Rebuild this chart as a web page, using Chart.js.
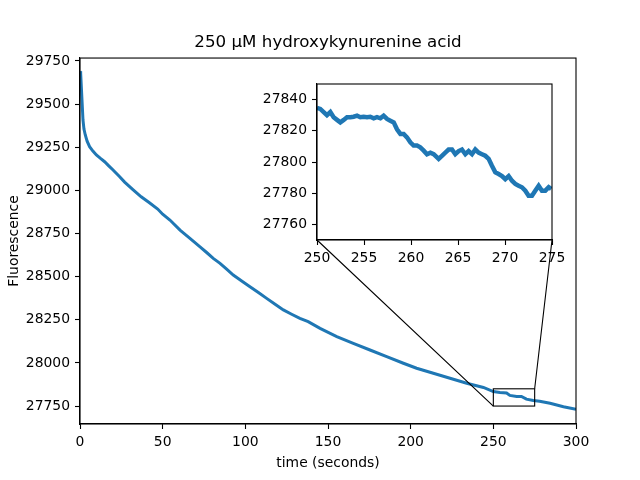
<!DOCTYPE html>
<html>
<head>
<meta charset="utf-8">
<script src="https://cdn.jsdelivr.net/npm/chart.js@4"></script>
<style>
  html, body { margin: 0; padding: 0; background: #fff; }
  #wrap { position: relative; width: 640px; height: 480px; }
  canvas { position: absolute; left: 0; top: 0; }
  #inset { pointer-events: none; }
</style>
</head>
<body>
<div id="wrap">
  <canvas id="main" width="640" height="480"></canvas>
  <canvas id="inset" width="640" height="480"></canvas>
</div>
<script>
// ---- data ----
const titleText = '250 µM hydroxykynurenine acid';
const xLabel = 'time (seconds)';
const yLabel = 'Fluorescence';

const mainTime = [0, 0.4, 1.2, 1.8, 2.4, 3.2, 4.3, 5.8, 7.8, 9.9, 12.4, 14.9, 17.4, 20, 24, 27, 32, 37, 42,
  47, 50, 54.4, 60.5, 66.5, 72.6, 76.6, 80.6, 84.7, 88.7, 92.7, 97.8, 102.8, 107.9, 112.9, 118, 123,
  128, 133, 138, 145.2, 155.3, 165.3, 175.4, 185.5, 195.6, 203.6, 213.7, 223.8, 233.9, 244, 250, 254,
  258, 260, 264.1, 267, 270, 274.2, 278, 284.3, 292.4, 300];
const mainValues = [29690, 29679, 29524, 29408, 29355, 29321, 29285, 29253, 29228, 29205, 29185, 29166,
  29142, 29118, 29079, 29048, 29005, 28963, 28928, 28892, 28862, 28828, 28770, 28722, 28673, 28640,
  28606, 28577, 28543, 28509, 28475, 28442, 28408, 28374, 28340, 28307, 28282, 28258, 28239, 28200,
  28152, 28113, 28075, 28036, 27998, 27969, 27940, 27911, 27882, 27858, 27834, 27829, 27826, 27812,
  27806, 27806, 27790, 27782, 27778, 27766, 27746, 27732];

const insetTime = [250.00, 250.35, 250.71, 251.06, 251.42, 251.77, 252.13, 252.48, 252.84, 253.19, 253.55,
  253.90, 254.26, 254.61, 254.96, 255.32, 255.67, 256.03, 256.38, 256.74, 257.09, 257.45, 257.80,
  258.16, 258.51, 258.87, 259.22, 259.57, 259.93, 260.28, 260.64, 260.99, 261.35, 261.70, 262.06,
  262.41, 262.94, 263.29, 263.65, 264.00, 264.36, 264.71, 265.07, 265.42, 265.78, 266.13, 266.49,
  266.84, 267.19, 267.55, 267.90, 268.26, 268.61, 268.97, 269.32, 269.68, 270.03, 270.39, 270.74,
  271.10, 271.45, 271.80, 272.16, 272.51, 272.87, 273.22, 273.58, 273.93, 274.29, 274.65, 274.92];
const insetValues = [27834.6, 27834, 27832, 27830, 27832, 27828.7, 27827, 27825.4, 27827, 27828.7, 27828.7,
  27829, 27829.7, 27828.7, 27829, 27828.7, 27829, 27828, 27828.7, 27828, 27829.7, 27827.6, 27826.5,
  27825.4, 27821, 27818, 27818, 27815.8, 27812.6, 27810.5, 27810.5, 27809.4, 27807.3, 27805, 27806,
  27805, 27802, 27804, 27806, 27808, 27808, 27805, 27807, 27808, 27805, 27807, 27805,
  27808, 27806, 27805, 27804, 27802, 27797.6, 27793.4, 27792.3, 27791, 27789, 27791, 27788,
  27786, 27784.8, 27783.8, 27781.6, 27778.4, 27778.4, 27781.6, 27784.8, 27781.6, 27781.6, 27783.8, 27782.7];

const mainXTicks = [0, 50, 100, 150, 200, 250, 300];
const mainYTicks = [27750, 28000, 28250, 28500, 28750, 29000, 29250, 29500, 29750];
const insetXTicks = [250, 255, 260, 265, 270, 275];
const insetYTicks = [27760, 27780, 27800, 27820, 27840];

const mainXRange = [0, 300];
const mainYRange = [27646, 29767];
const zoomX = [250, 275];
const zoomY = [27750, 27850];

// ---- styling ----
const FONT = 'DejaVu Sans';
const BLUE = '#1f77b4';
const tickFont = { family: FONT, size: 13.9 };

function fixedTicks(arr) {
  return function (scale) { scale.ticks = arr.map(v => ({ value: v })); };
}
function axisCommon(ticksArr, pos) {
  return {
    type: 'linear',
    position: pos,
    afterBuildTicks: fixedTicks(ticksArr),
    grid: { drawOnChartArea: false, color: '#000', tickLength: 5, tickWidth: 1.1 },
    border: { display: true, color: '#000', width: 1.1 },
    ticks: { color: '#000', font: tickFont, padding: 5, maxRotation: 0, autoSkip: false,
      callback: v => String(v) }
  };
}

const frame = {
  id: 'frame',
  beforeDraw(chart, args, opts) {
    if (opts.fillArea) {
      const a = chart.chartArea, c = chart.ctx;
      c.save(); c.fillStyle = '#fff';
      c.fillRect(a.left, a.top, a.right - a.left, a.bottom - a.top);
      c.restore();
    }
  },
  afterDraw(chart) {
    const a = chart.chartArea, c = chart.ctx;
    c.save();
    c.strokeStyle = '#000'; c.lineWidth = 1.1;
    c.strokeRect(a.left, a.top, a.right - a.left, a.bottom - a.top);
    c.restore();
  }
};

// ---- main chart ----
const mx = axisCommon(mainXTicks, 'bottom');
mx.min = mainXRange[0]; mx.max = mainXRange[1];
mx.afterFit = s => { s.height = 56; };
mx.title = { display: true, text: xLabel, color: '#000', font: { family: FONT, size: 13.9 }, padding: { top: 0, bottom: 8.5 } };
const my = axisCommon(mainYTicks, 'left');
my.min = mainYRange[0]; my.max = mainYRange[1];
my.afterFit = s => { s.width = 80; };
my.title = { display: true, text: yLabel, color: '#000', font: { family: FONT, size: 13.9 }, padding: { top: 6, bottom: 0 } };

const mainChart = new Chart(document.getElementById('main'), {
  type: 'line',
  data: {
    datasets: [{
      data: mainTime.map((t, i) => ({ x: t, y: mainValues[i] })),
      borderColor: BLUE, borderWidth: 3, pointRadius: 0, tension: 0, fill: false
    }]
  },
  options: {
    responsive: false, animation: false, devicePixelRatio: 1,
    layout: { padding: { left: 0, right: 64, top: 0, bottom: 0 } },
    plugins: {
      legend: { display: false }, tooltip: { enabled: false },
      title: { display: true, fullSize: false, text: titleText, color: '#000',
        font: { family: FONT, size: 16.7, weight: 'normal' },
        padding: { top: 33, bottom: 5 } },
      frame: { fillArea: false }
    },
    scales: { x: mx, y: my }
  },
  plugins: [frame]
});

// ---- inset chart ----
const connectors = {
  id: 'connectors',
  afterDraw(chart) {
    const c = chart.ctx, a = chart.chartArea;
    const sx = mainChart.scales.x, sy = mainChart.scales.y;
    const x0 = sx.getPixelForValue(zoomX[0]), x1 = sx.getPixelForValue(zoomX[1]);
    const y0 = sy.getPixelForValue(zoomY[0]), y1 = sy.getPixelForValue(zoomY[1]);
    c.save();
    c.strokeStyle = '#000'; c.lineWidth = 1.1;
    c.strokeRect(x0, y1, x1 - x0, y0 - y1);
    c.beginPath();
    c.moveTo(a.left, a.bottom); c.lineTo(x0, y0);
    c.moveTo(a.right, a.bottom); c.lineTo(x1, y1);
    c.stroke();
    c.restore();
  }
};

const ix = axisCommon(insetXTicks, 'bottom');
ix.min = zoomX[0]; ix.max = zoomX[1];
ix.afterFit = s => { s.height = 30; };
const iy = axisCommon(insetYTicks, 'left');
iy.min = zoomY[0]; iy.max = zoomY[1];
iy.afterFit = s => { s.width = 57; };

new Chart(document.getElementById('inset'), {
  type: 'line',
  data: {
    datasets: [{
      data: insetTime.map((t, i) => ({ x: t, y: insetValues[i] })),
      borderColor: BLUE, borderWidth: 4.5, pointRadius: 0, tension: 0, fill: false
    }]
  },
  options: {
    responsive: false, animation: false, devicePixelRatio: 1,
    layout: { padding: { left: 260, right: 88, top: 84, bottom: 210 } },
    plugins: {
      legend: { display: false }, tooltip: { enabled: false }, title: { display: false },
      frame: { fillArea: true }
    },
    scales: { x: ix, y: iy }
  },
  plugins: [frame, connectors]
});
</script>
</body>
</html>
